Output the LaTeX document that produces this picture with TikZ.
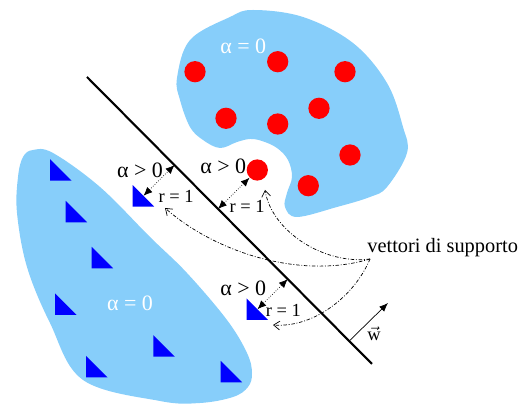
\documentclass[tikz,border=0pt]{standalone}
\usepackage{fontspec}
\setmainfont{Liberation Serif}
\usetikzlibrary{arrows.meta,calc}

\definecolor{blobblue}{RGB}{135,206,250}

\tikzset{
  redpt/.style={circle, fill=red, inner sep=0pt, minimum size=12.1pt},
  sepline/.style={line width=1.2pt},
  marginarrow/.style={densely dotted, {Latex[length=5pt,width=4.2pt]}-{Latex[length=5pt,width=4.2pt]}},
  pointer/.style={dash pattern=on 2pt off 1pt on 0.5pt off 1pt, -{Straight Barb[length=3.5pt,width=5pt]}},
  biglbl/.style={inner sep=0pt, font=\fontsize{12.5}{14}\selectfont},
  smalllbl/.style={inner sep=0pt, font=\fontsize{10.5}{12}\selectfont},
}

\begin{document}
\begin{tikzpicture}[x=0.02cm, y=-0.02cm]
  \useasboundingbox (0,0) rectangle (518,404);
  % upper region (circles)
  \fill[blobblue] plot[smooth cycle, tension=0.6] coordinates {
    (177,78) (190,40) (230,17) (253,10) (303,17) (353,43) (387,83)
    (403,127) (407,153) (387,187) (370,197) (337,207) (297,217)
    (285,207) (287,193) (292,177) (288,160) (277,148) (262,141)
    (250,139) (237,142) (220,148) (203,140) (190,127) (180,100)};
  % lower region (triangles)
  \fill[blobblue] plot[smooth cycle, tension=0.6] coordinates {
    (33,150) (53,153) (100,187) (150,237) (187,273) (227,320)
    (247,353) (252,373) (248,387) (233,397) (200,403) (160,401)
    (83,380) (50,323) (27,267) (17,213) (18,177) (23,157)};
  % separating hyperplane
  \coordinate (h1) at (87,77);
  \coordinate (h2) at (372,364);
  \draw[sepline] (h1) -- (h2);
  \coordinate (w0) at ($(h1)!0.92!(h2)$);
  \coordinate (wtip) at (388,303);
  \draw[-{Latex[length=5pt,width=4pt]}] (w0) -- (wtip);
  \node[smalllbl] (wlbl) at (374,334) {$\vec{\mathrm{w}}$};
  % red circles, the last one is a support vector
  \foreach \x/\y [count=\i] in {195/71.7, 277.7/61.7, 345/71.7, 226/118.3,
      277.7/124, 319/108.3, 350/155, 308.3/185.7, 257.3/170}
    \node[redpt] (c\i) at (\x,\y) {};
  % blue triangles, the last two are support vectors
  \foreach \x/\y in {50/180.7, 65.7/222.3, 91.7/268.3, 55/315, 153.3/356.7,
      86/377.3, 220.7/382.3, 132.7/206.7, 246.7/320}
    \fill[blue] (\x,\y) -- ++(0,-21.5) -- ++(21.5,21.5) -- cycle;
  \coordinate (sv1) at (143.5,195.8);
  \coordinate (sv3) at (257.5,309.2);
  % margins
  \coordinate (f1) at ($(h1)!(sv1)!(h2)$);
  \coordinate (f2) at ($(h1)!(c9)!(h2)$);
  \coordinate (f3) at ($(h1)!(sv3)!(h2)$);
  \draw[marginarrow] (sv1) -- (f1);
  \draw[marginarrow] (f2) -- (c9.225);
  \draw[marginarrow] (sv3) -- (f3);
  \node[biglbl] (a1) at (140,170) {α > 0};
  \node[biglbl] (a2) at (223.3,166) {α > 0};
  \node[biglbl] (a3) at (243.3,288.3) {α > 0};
  \node[smalllbl] (r1) at (176,196.7) {r = 1};
  \node[smalllbl] (r2) at (247,206.7) {r = 1};
  \node[smalllbl] (r3) at (283.3,310) {r = 1};
  \node[biglbl, white] (z1) at (243.3,46) {α = 0};
  \node[biglbl, white] (z2) at (130,303.3) {α = 0};
  % support vector label
  \node[anchor=base west, inner sep=0pt, font=\fontsize{11.6}{14}\selectfont]
    (vettori) at (367,253) {vettori di supporto};
  \coordinate (vs) at (370,259);
  \draw[pointer] (vs) .. controls (300,280) and (215,252) .. (165,208);
  \draw[pointer] (vs) .. controls (325,265) and (272,232) .. (265,190);
  \draw[pointer] (vs) .. controls (355,295) and (315,328) .. (273,325);
\end{tikzpicture}
\end{document}
